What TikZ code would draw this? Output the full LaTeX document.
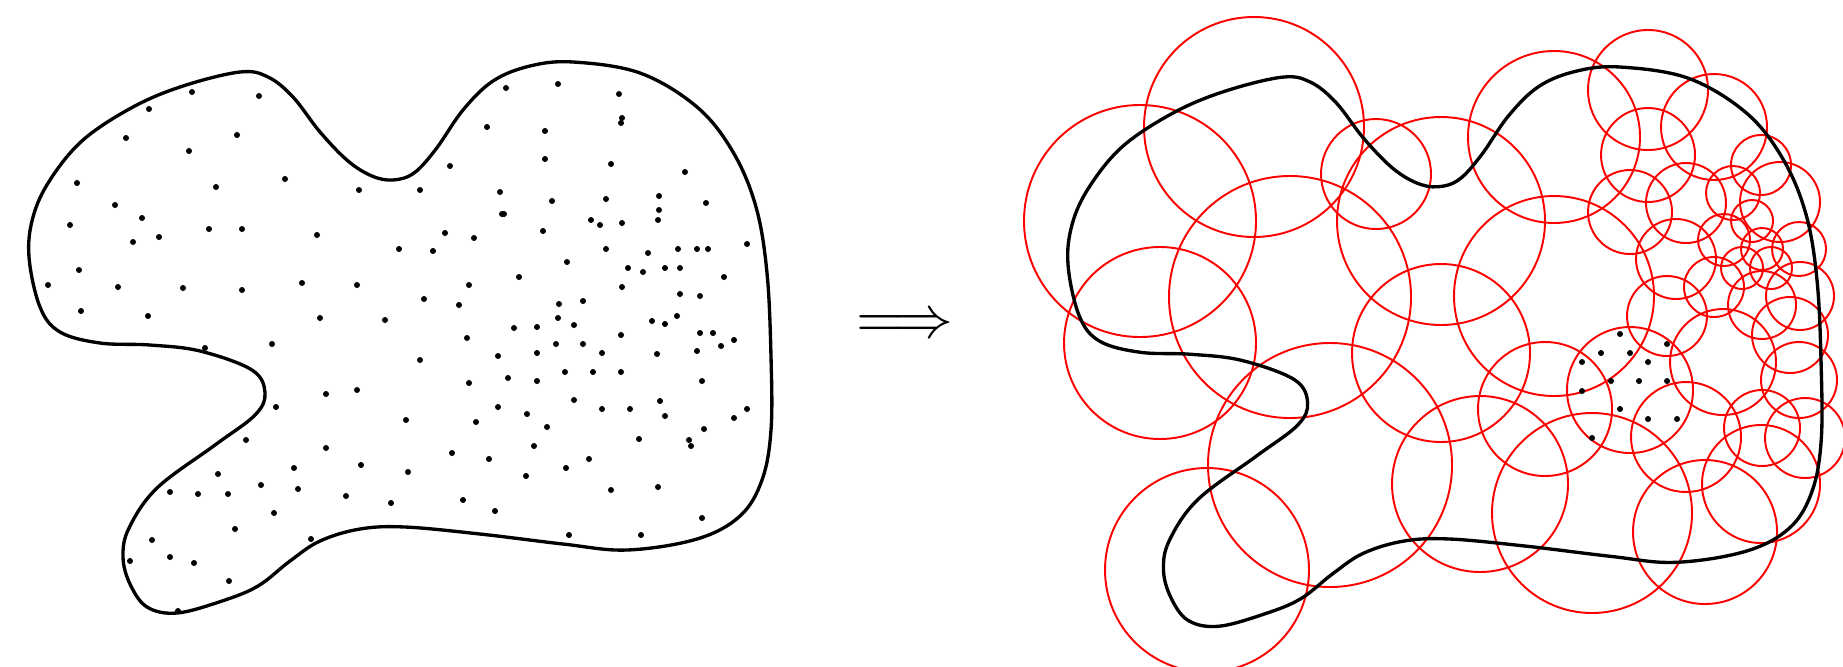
\documentclass[tikz,border=0pt]{standalone}
\usepackage{tikz}
\begin{document}
\begin{tikzpicture}[x=0.01cm,y=-0.01cm,
  blob/.style={line width=0.95pt,black},
  cover/.style={line width=0.55pt,red},
  pt/.style={fill=black}]
\useasboundingbox (0,0) rectangle (1843,666);
\newcommand{\blobshape}{plot[smooth cycle,tension=0.6] coordinates {
 (240,72) (268,77) (293,97) (320,132) (348,161) (372,176) (393,180) (414,173)
 (436,149) (463,110) (493,81) (530,66) (573,62) (640,73) (697,107) (733,152)
 (756,207) (767,273) (771,357) (771,430) (762,480) (740,516) (697,539)
 (627,550) (563,544) (480,534) (405,527) (360,529) (320,541) (290,561)
 (258,586) (222,601) (177,613) (147,607) (130,584) (123,557) (129,528)
 (157,488) (215,445) (255,415) (265,393) (252,370) (200,351) (150,345)
 (100,343) (60,332) (40,307) (29,257) (33,217) (50,180) (83,140) (133,107)
 (183,86)}}
% left domain
\draw[blob] \blobshape;
\foreach \p in {(192,92),(259,96),(149,109),(126,138),(237,135),(189,151),(77,183),(216,187),(285,179),(359,190),(115,205),(142,218),(70,225),(133,242),(159,237),(209,229),(242,229),(317,235),(399,249),(79,270),(48,285),(118,287),(183,288),(242,290),(302,283),(357,285),(81,311),(148,316),(320,318),(385,320),(205,348),(272,344),
(506,88),(558,84),(619,94),(622,118),(621,123),(487,127),(545,131),(545,159),(450,166),(611,164),(685,172),(420,190),(500,192),(552,201),(606,199),(659,196),(706,203),(659,210),(658,220),(502,214),(504,214),(591,220),(600,225),(622,223),(445,233),(474,238),(543,231),(433,251),(606,249),(648,253),(678,249),(697,249),(708,249),(747,244),(567,262),(628,268),(643,272),(665,268),(680,268),(724,277),(519,277),(469,285),(622,287),(424,299),(459,305),(559,304),(583,301),(680,294),(700,296),(558,318),(574,325),(652,321),(665,324),(677,316),(514,328),(537,327),(621,335),(700,333),(713,333),(734,340),(721,346),(467,338),(556,344),(583,344),(498,356),(537,353),(602,353),(657,354),(697,351),(420,360),
(469,383),(508,378),(537,381),(565,372),(593,372),(621,372),(702,381),(574,400),(498,407),(527,414),(602,409),(630,409),(660,401),(665,416),(747,409),(734,418),(704,429),(406,420),(476,422),(547,427),(639,439),(689,440),(691,446),(452,453),(489,459),(534,446),(589,459),(408,472),(526,476),(566,468),(658,487),(611,490),(391,503),(463,500),(495,511),(702,518),(569,535),(641,535),
(326,394),(357,390),(276,407),(246,440),(326,448),(294,468),(361,465),(218,474),(261,485),(298,489),(170,492),(198,494),(228,494),(346,496),(274,513),(235,529),(311,539),(152,540),(130,561),(170,557),(194,563),(229,581),(178,611)}
  \fill[pt] \p circle (3);
% implication arrow
\node[scale=1.7,inner sep=0pt] (impl) at (905,327) {$\Longrightarrow$};
% covering circles
\foreach \cx/\cy/\r in {1140/221/116,1254/127/110,1376/174/55,1290/297/121,1160/343/96,1330/465/122,1207/570/102,1441/221/104,1441/353/89,1554/137/86,1554/296/100,1648/90/60,1714/127/53,1648/155/47,1630/212/42,1686/203/40,1761/165/30,1780/202/40,1733/193/27,1752/221/21,1676/259/40,1724/240/26,1762/249/21,1799/249/27,1742/268/21,1771/268/21,1714/287/30,1762/305/34,1800/296/34,1667/316/40,1723/362/53,1790/335/38,1799/380/38,1630/390/63,1545/409/67,1592/513/100,1480/484/88,1705/532/72,1686/437/55,1761/484/59,1762/428/38,1805/438/40}
  \draw[cover] (\cx,\cy) circle (\r);
% right domain
\begin{scope}[shift={(1038.6,4.1)},scale=1.015]
\draw[blob] \blobshape;
\end{scope}
\foreach \p in {(1620,334),(1667,344),(1601,353),(1630,353),(1582,362),(1648,362),(1611,381),(1639,381),(1667,381),(1582,391),(1620,409),(1648,419),(1677,419),(1592,438)}
  \fill[pt] \p circle (3);
\end{tikzpicture}
\end{document}
